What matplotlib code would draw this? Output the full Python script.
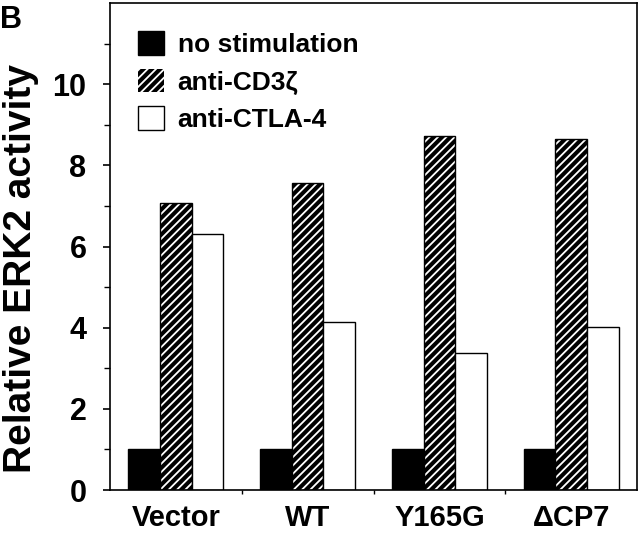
import matplotlib
matplotlib.use("Agg")
import matplotlib.pyplot as plt
import numpy as np
from matplotlib.patches import Patch
from matplotlib.ticker import FixedLocator

plt.rcParams['font.family'] = ['Liberation Sans', 'DejaVu Sans']
plt.rcParams['font.weight'] = 'bold'
plt.rcParams['hatch.linewidth'] = 1.3

categories = ['Vector', 'WT', 'Y165G', '\u0394CP7']
series_names = ['no stimulation', 'anti-CD3\u03b6', 'anti-CTLA-4']
no_stim = [1.0, 1.0, 1.0, 1.0]
anti_cd3 = [7.08, 7.57, 8.72, 8.65]
anti_ctla4 = [6.32, 4.14, 3.38, 4.01]

fig = plt.figure(figsize=(6.4, 5.34), dpi=100)
ax = fig.add_axes([110/640, 1-490/534, 527/640, 487/534])

x = np.arange(len(categories))
w = 0.24

ax.bar(x - w, no_stim, w, color='black', edgecolor='black', linewidth=1.0)
ax.bar(x, anti_cd3, w, color='black', edgecolor='white', hatch='////', linewidth=0)
ax.bar(x, anti_cd3, w, fill=False, edgecolor='black', linewidth=1.0)
ax.bar(x + w, anti_ctla4, w, color='white', edgecolor='black', linewidth=1.0)

ax.set_xlim(-0.5, 3.5)
ax.set_ylim(0, 12)
ax.yaxis.set_major_locator(FixedLocator([0, 2, 4, 6, 8, 10]))
ax.yaxis.set_minor_locator(FixedLocator([1, 3, 5, 7, 9, 11]))
ax.set_xticks(x)
ax.set_xticklabels(categories, fontsize=21, fontweight='bold')
ax.xaxis.set_minor_locator(FixedLocator([0.5, 1.5, 2.5]))
ax.tick_params(axis='x', which='major', length=0, pad=10)
ax.tick_params(axis='x', which='minor', length=3, width=1.0, direction='out')
ax.tick_params(axis='y', which='major', length=5, width=1.2, direction='out', labelsize=22, pad=12)
ax.tick_params(axis='y', which='minor', length=4, width=1.0, direction='out')
for lab in ax.get_yticklabels():
    lab.set_fontweight('bold')
for s in ax.spines.values():
    s.set_linewidth(1.2)

ax.set_ylabel('Relative ERK2 activity', fontsize=28, fontweight='bold')
ax.yaxis.set_label_coords(-0.135, 0.455)

handles = [
    Patch(facecolor='black', edgecolor='black', linewidth=1.0),
    Patch(facecolor='black', edgecolor='white', hatch='////', linewidth=0),
    Patch(facecolor='white', edgecolor='black', linewidth=1.0),
]
leg = ax.legend(handles, series_names, loc='upper left', bbox_to_anchor=(28/527, 1-28/487),
                frameon=False, handlelength=1.0, handleheight=1.0,
                handletextpad=0.5, labelspacing=0.45, borderpad=0, borderaxespad=0,
                prop={'weight': 'bold', 'size': 19})

fig.text(0.0, 1-5/534, 'B', fontsize=22, fontweight='bold', va='top', ha='left')

fig.savefig('out.png', dpi=100)
